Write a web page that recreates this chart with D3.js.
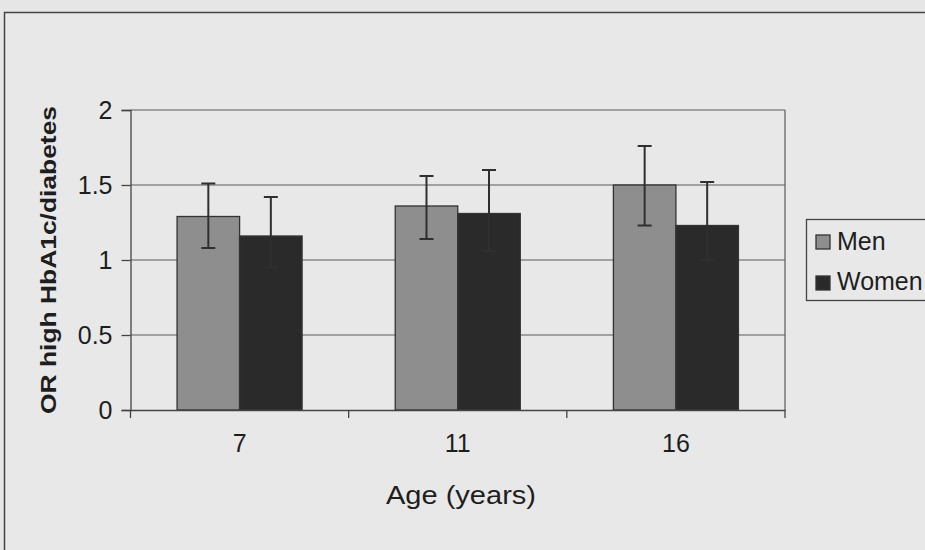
<!DOCTYPE html>
<html>
<head>
<meta charset="utf-8">
<script src="https://cdn.jsdelivr.net/npm/d3@7"></script>
<style>
  html, body { margin: 0; padding: 0; background: #e6e6e6; }
  svg { display: block; }
  text { font-family: "Liberation Sans", Arial, sans-serif; fill: #1e1e1e; }
</style>
</head>
<body>
<script>
const categories = ["7", "11", "16"];
const seriesNames = ["Men", "Women"];
const menValues = [1.29, 1.36, 1.50];
const womenValues = [1.16, 1.31, 1.23];
const menLower = [1.08, 1.14, 1.23];
const menUpper = [1.51, 1.56, 1.76];
const womenLower = [0.95, 1.06, 1.00];
const womenUpper = [1.42, 1.60, 1.52];
const yTicks = [0, 0.5, 1, 1.5, 2];
const yTickLabels = ["0", "0.5", "1", "1.5", "2"];

const W = 925, H = 550;
const svg = d3.select("body").append("svg").attr("width", W).attr("height", H);

svg.append("rect").attr("width", W).attr("height", H).attr("fill", "#e6e6e6");

// outer chart frame
svg.append("rect").attr("x", 4.5).attr("y", 12.5).attr("width", W + 20).attr("height", H + 20)
  .attr("fill", "#e8e8e8").attr("stroke", "#444").attr("stroke-width", 1.5);

const plot = { left: 130.5, right: 785, top: 110, bottom: 410 };

const x0 = d3.scaleBand().domain(categories).range([plot.left, plot.right]).padding(0);
const x1 = d3.scaleBand().domain(seriesNames).range([0, x0.bandwidth()]).paddingInner(0).paddingOuter(0.745);
const y = d3.scaleLinear().domain([0, 2]).range([plot.bottom, plot.top]);
const colors = { Men: "#8e8e8e", Women: "#2a2a2a" };

// gridlines
svg.append("g").selectAll("line").data(yTicks.filter(d => d > 0)).join("line")
  .attr("x1", plot.left).attr("x2", plot.right)
  .attr("y1", d => y(d)).attr("y2", d => y(d))
  .attr("stroke", "#5a5a5a").attr("stroke-width", 1.2);

// right border of plot area
svg.append("line").attr("x1", plot.right).attr("x2", plot.right)
  .attr("y1", plot.top).attr("y2", plot.bottom)
  .attr("stroke", "#5a5a5a").attr("stroke-width", 1.2);

const data = categories.map((c, i) => ({
  cat: c,
  items: [
    { s: "Men", v: menValues[i], lo: menLower[i], hi: menUpper[i] },
    { s: "Women", v: womenValues[i], lo: womenLower[i], hi: womenUpper[i] }
  ]
}));

const groups = svg.append("g").selectAll("g").data(data).join("g")
  .attr("transform", d => `translate(${x0(d.cat)},0)`);

groups.selectAll("rect").data(d => d.items).join("rect")
  .attr("x", d => x1(d.s)).attr("width", x1.bandwidth())
  .attr("y", d => y(d.v)).attr("height", d => y(0) - y(d.v))
  .attr("fill", d => colors[d.s]).attr("stroke", "#333").attr("stroke-width", 1.3);

// error bars
const eb = groups.selectAll("g.err").data(d => d.items).join("g").attr("class", "err");
eb.append("line")
  .attr("x1", d => x1(d.s) + x1.bandwidth() / 2).attr("x2", d => x1(d.s) + x1.bandwidth() / 2)
  .attr("y1", d => y(d.lo)).attr("y2", d => y(d.hi))
  .attr("stroke", "#2f2f2f").attr("stroke-width", 2);
["lo", "hi"].forEach(k => {
  eb.append("line")
    .attr("x1", d => x1(d.s) + x1.bandwidth() / 2 - 7).attr("x2", d => x1(d.s) + x1.bandwidth() / 2 + 7)
    .attr("y1", d => y(d[k])).attr("y2", d => y(d[k]))
    .attr("stroke", "#2f2f2f").attr("stroke-width", 2);
});

// y axis
const yAxis = d3.axisLeft(y).tickValues(yTicks).tickFormat((d, i) => yTickLabels[i]).tickSize(9).tickPadding(9);
const gy = svg.append("g").attr("transform", `translate(${plot.left},0)`).call(yAxis);
gy.select(".domain").attr("stroke", "#444").attr("stroke-width", 1.3);
gy.selectAll(".tick line").attr("stroke", "#444").attr("stroke-width", 1.3);
gy.selectAll(".tick text").attr("font-size", 25).attr("fill", "#1e1e1e")
  .attr("font-family", "Liberation Sans, Arial, sans-serif");

// x axis
const xAxis = d3.axisBottom(x0).tickSize(0).tickPadding(24);
const gx = svg.append("g").attr("transform", `translate(0,${plot.bottom})`).call(xAxis);
gx.select(".domain").attr("stroke", "#444").attr("stroke-width", 1.3);
gx.selectAll(".tick text").attr("font-size", 25).attr("fill", "#1e1e1e")
  .attr("font-family", "Liberation Sans, Arial, sans-serif");
// category boundary tick marks
const bounds = categories.map(c => x0(c)).concat([plot.right]);
svg.append("g").selectAll("line").data(bounds).join("line")
  .attr("x1", d => d).attr("x2", d => d)
  .attr("y1", plot.bottom).attr("y2", plot.bottom + 8)
  .attr("stroke", "#444").attr("stroke-width", 1.3);

// axis titles
svg.append("text").attr("x", 461).attr("y", 504)
  .attr("text-anchor", "middle").attr("font-size", 26)
  .attr("textLength", 150).attr("lengthAdjust", "spacingAndGlyphs")
  .text("Age (years)");

svg.append("text").attr("transform", "translate(56,260) rotate(-90)")
  .attr("text-anchor", "middle").attr("font-size", 22).attr("font-weight", "bold")
  .attr("textLength", 308).attr("lengthAdjust", "spacingAndGlyphs")
  .text("OR high HbA1c/diabetes");

// legend
const lg = svg.append("g");
lg.append("rect").attr("x", 806.5).attr("y", 219.5).attr("width", 140).attr("height", 81)
  .attr("fill", "#e8e8e8").attr("stroke", "#444").attr("stroke-width", 1.3);
seriesNames.forEach((s, i) => {
  lg.append("rect").attr("x", 816).attr("y", 235 + i * 41).attr("width", 14).attr("height", 14)
    .attr("fill", colors[s]).attr("stroke", "#333").attr("stroke-width", 1.3);
  lg.append("text").attr("x", 837).attr("y", 250 + i * 40).attr("font-size", 25).text(s);
});
</script>
</body>
</html>
